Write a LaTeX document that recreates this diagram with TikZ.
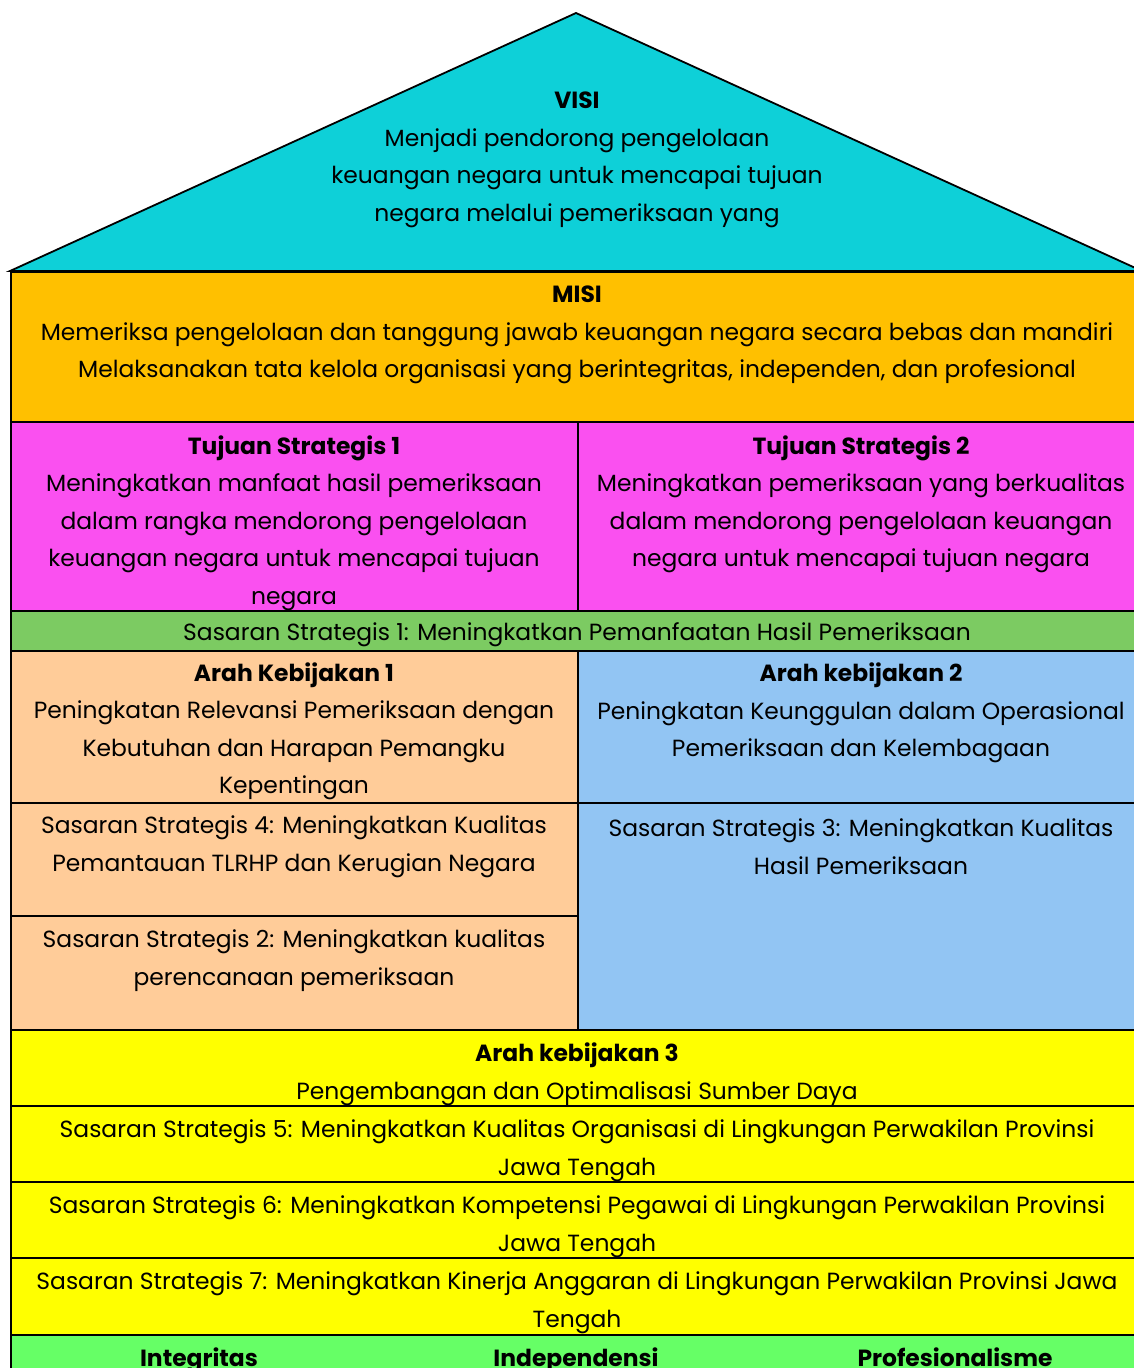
\documentclass[tikz,border=0pt]{standalone}
\usepackage{fontspec}
\setmainfont{Poppins}
\usepackage{tikz}

\definecolor{roofcyan}{HTML}{0ED0D8}
\definecolor{misiorange}{HTML}{FFC000}
\definecolor{tujuanpink}{HTML}{FA50F0}
\definecolor{sasarangreen}{HTML}{7CCB62}
\definecolor{arahpeach}{HTML}{FFCC99}
\definecolor{arahblue}{HTML}{92C5F3}
\definecolor{dayayellow}{HTML}{FFFF00}
\definecolor{nilaigreen}{HTML}{66FF66}

\begin{document}
\begin{tikzpicture}[x=1pt, y=-1pt,
		cell/.style={draw=black, line width=2.4pt},
		txt/.style={align=center, inner sep=0pt, font=\fontsize{23.4}{37.5}\selectfont}]
		\useasboundingbox (0,0) rectangle (1134,1368);
		\clip (0,0) rectangle (1134,1368);
		% roof
		\filldraw [fill=roofcyan, line width=1.8pt] (576,13) -- (10,271) -- (1142,271) -- cycle;
		% body of the house
		\filldraw [cell, fill=misiorange] (11,272) rectangle (1144,422);
		\filldraw [cell, fill=tujuanpink] (11,422) rectangle (578,611);
		\filldraw [cell, fill=tujuanpink] (578,422) rectangle (1144,611);
		\filldraw [cell, fill=sasarangreen] (11,611) rectangle (1144,651);
		\filldraw [cell, fill=arahpeach] (11,651) rectangle (578,803);
		\filldraw [cell, fill=arahblue] (578,651) rectangle (1144,803);
		\filldraw [cell, fill=arahpeach] (11,803) rectangle (578,916);
		\filldraw [cell, fill=arahpeach] (11,916) rectangle (578,1030);
		\filldraw [cell, fill=arahblue] (578,803) rectangle (1144,1030);
		\filldraw [cell, fill=dayayellow] (11,1030) rectangle (1144,1106);
		\filldraw [cell, fill=dayayellow] (11,1106) rectangle (1144,1182);
		\filldraw [cell, fill=dayayellow] (11,1182) rectangle (1144,1258);
		\filldraw [cell, fill=dayayellow] (11,1258) rectangle (1144,1335);
		\filldraw [cell, fill=nilaigreen] (11,1335) rectangle (1144,1400);

		\node [txt] (visi) at (577,160) {\textbf{VISI}\\Menjadi pendorong pengelolaan\\keuangan negara untuk mencapai tujuan\\negara melalui pemeriksaan yang};
		\node [txt] (misi) at (577,335) {\textbf{MISI}\\Memeriksa pengelolaan dan tanggung jawab keuangan negara secara bebas dan mandiri\\Melaksanakan tata kelola organisasi yang berintegritas, independen, dan profesional};
		\node [txt] (tujuan1) at (294,523) {\textbf{Tujuan Strategis 1}\\Meningkatkan manfaat hasil pemeriksaan\\dalam rangka mendorong pengelolaan\\keuangan negara untuk mencapai tujuan\\negara};
		\node [txt] (tujuan2) at (861,504.5) {\textbf{Tujuan Strategis 2}\\Meningkatkan pemeriksaan yang berkualitas\\dalam mendorong pengelolaan keuangan\\negara untuk mencapai tujuan negara};
		\node [txt] (ss1) at (577,635) {Sasaran Strategis 1: Meningkatkan Pemanfaatan Hasil Pemeriksaan};
		\node [txt] (arah1) at (294,731.5) {\textbf{Arah Kebijakan 1}\\Peningkatan Relevansi Pemeriksaan dengan\\Kebutuhan dan Harapan Pemangku\\Kepentingan};
		\node [txt] (arah2) at (861,713) {\textbf{Arah kebijakan 2}\\Peningkatan Keunggulan dalam Operasional\\Pemeriksaan dan Kelembagaan};
		\node [txt] (ss4) at (294,846.5) {Sasaran Strategis 4: Meningkatkan Kualitas\\Pemantauan TLRHP dan Kerugian Negara};
		\node [txt] (ss2) at (294,960.5) {Sasaran Strategis 2: Meningkatkan kualitas\\perencanaan pemeriksaan};
		\node [txt] (ss3) at (861,846.5) {Sasaran Strategis 3: Meningkatkan Kualitas\\Hasil Pemeriksaan};
		\node [txt] (arah3) at (577,1074.5) {\textbf{Arah kebijakan 3}\\Pengembangan dan Optimalisasi Sumber Daya};
		\node [txt] (ss5) at (577,1150.5) {Sasaran Strategis 5: Meningkatkan Kualitas Organisasi di Lingkungan Perwakilan Provinsi\\Jawa Tengah};
		\node [txt] (ss6) at (577,1226.5) {Sasaran Strategis 6: Meningkatkan Kompetensi Pegawai di Lingkungan Perwakilan Provinsi\\Jawa Tengah};
		\node [txt] (ss7) at (577,1302.5) {Sasaran Strategis 7: Meningkatkan Kinerja Anggaran di Lingkungan Perwakilan Provinsi Jawa\\Tengah};
		% nilai dasar
		\node [txt, anchor=base] (integritas) at (199,1366) {\textbf{Integritas}};
		\node [txt, anchor=base] (independensi) at (576,1366) {\textbf{Independensi}};
		\node [txt, anchor=base] (profesional) at (955,1366) {\textbf{Profesionalisme}};
\end{tikzpicture}
\end{document}
